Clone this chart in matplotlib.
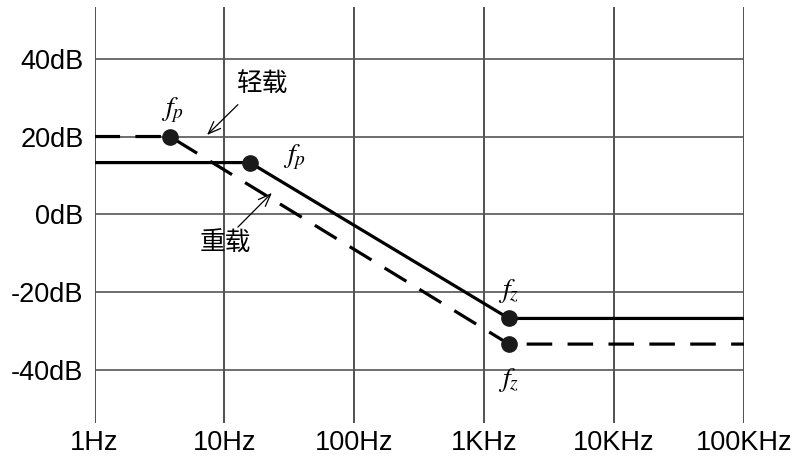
import matplotlib
matplotlib.use("Agg")
import matplotlib.pyplot as plt
import numpy as np

# ---- data ----
freq_ticks = [1, 10, 100, 1e3, 1e4, 1e5]
freq_labels = ["1Hz", "10Hz", "100Hz", "1KHz", "10KHz", "100KHz"]
db_ticks = [-40, -20, 0, 20, 40]
db_labels = ["-40dB", "-20dB", "0dB", "20dB", "40dB"]

# light load (dashed)
light_freq = [1, 3.8, 1550, 1e5]
light_db = [20, 20, -33.4, -33.4]
# heavy load (solid)
heavy_freq = [1, 15.7, 1550, 1e5]
heavy_db = [13.3, 13.3, -26.8, -26.8]

light_label = "轻载"
heavy_label = "重载"

plt.rcParams['font.family'] = ['Liberation Sans', 'DejaVu Sans']
plt.rcParams['mathtext.fontset'] = 'stix'

fig = plt.figure(figsize=(7.95, 4.57), dpi=100)
ax = fig.add_axes([94.5/795, 1-423/457, (744-94.5)/795, (423-6.7)/457])
ax.set_xscale('log')
ax.set_xlim(1, 1e5)
ax.set_ylim(-53.7, 53.4)

for s in ax.spines.values():
    s.set_visible(False)

# grid
for f in freq_ticks:
    ax.axvline(f, color='#333333', lw=1.2, zorder=1)
for d in db_ticks:
    ax.axhline(d, color='#555555', lw=1.2, zorder=1)

ax.set_xticks(freq_ticks)
ax.set_xticklabels(freq_labels)
ax.set_yticks(db_ticks)
ax.set_yticklabels(db_labels)
ax.xaxis.set_minor_locator(matplotlib.ticker.NullLocator())
ax.tick_params(axis='both', length=0, labelsize=19.5, colors='black')
ax.tick_params(axis='x', pad=5)
ax.tick_params(axis='y', pad=8)

# curves
ax.plot(heavy_freq, heavy_db, color='black', lw=2.3, zorder=3, solid_capstyle='butt')
ax.plot(light_freq, light_db, color='black', lw=2.3, zorder=3,
        dashes=(8.0, 4.8), dash_capstyle='butt')

# corner markers
mk = dict(marker='o', ms=11, color='#1a1a1a', ls='none', zorder=4)
ax.plot([light_freq[1], light_freq[2]], [light_db[1], light_db[2]], **mk)
ax.plot([heavy_freq[1], heavy_freq[2]], [heavy_db[1], heavy_db[2]], **mk)

lab = dict(fontsize=20, ha='center', va='center', textcoords='offset points')
ax.annotate(r'$f_p$', (light_freq[1], light_db[1]), xytext=(2, 19), **lab)
ax.annotate(r'$f_p$', (heavy_freq[1], heavy_db[1]), xytext=(32, 4), **lab)
ax.annotate(r'$f_z$', (heavy_freq[2], heavy_db[2]), xytext=(0, 20), **lab)
ax.annotate(r'$f_z$', (light_freq[2], light_db[2]), xytext=(0, -26), **lab)

cjk = ['Noto Sans CJK SC', 'DejaVu Sans']
arrow = dict(arrowstyle='->,head_length=0.9,head_width=0.35', color='black', lw=0.9,
             shrinkA=0, shrinkB=0)
ax.annotate('', xy=(7.35, 20.4), xytext=(12.7, 28.2), arrowprops=arrow, zorder=5)
ax.text(19.8, 33.3, light_label, family=cjk, fontsize=18.5, fontweight='light',
        ha='center', va='center')
ax.annotate('', xy=(23.2, 5.5), xytext=(12.7, -3.3), arrowprops=arrow, zorder=5)
ax.text(10.1, -7.5, heavy_label, family=cjk, fontsize=18.5, fontweight='light',
        ha='center', va='center')

fig.savefig('out.png', dpi=100)
